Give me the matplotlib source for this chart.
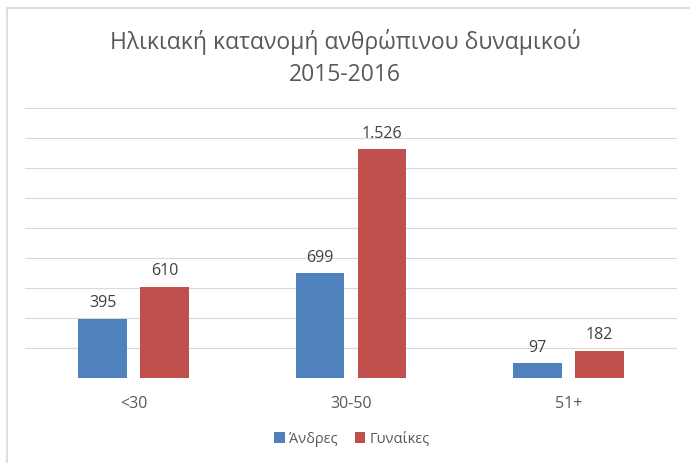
import matplotlib
matplotlib.use("Agg")
import matplotlib.pyplot as plt
import numpy as np
from matplotlib.patches import Rectangle

categories = ["<30", "30-50", "51+"]
series_names = ["Άνδρες", "Γυναίκες"]
men = [395, 699, 97]
women = [610, 1526, 182]
title_lines = ["Ηλικιακή κατανομή ανθρώπινου δυναμικού", "2015-2016"]

colors = ["#4F81BD", "#C0504D"]
FONT = ["Open Sans", "DejaVu Sans"]
plt.rcParams["font.family"] = FONT

W, H = 690, 464
fig = plt.figure(figsize=(W / 100, H / 100), dpi=100)
fig.patch.set_facecolor("white")

# chart border (only left and top edges fall inside the image)
fig.patches.append(Rectangle((7 / W, -0.5), 2, 1.5 - 9 / H, transform=fig.transFigure,
                             fill=False, edgecolor="#D9D9D9", linewidth=1.2, zorder=0))

left, right, bottom, top = 25 / W, 677 / W, 1 - 379 / H, 1 - 109 / H
ax = fig.add_axes([left, bottom, right - left, top - bottom])

x = np.arange(len(categories))
bw = 0.225
off = bw / 2 + 0.03
b1 = ax.bar(x - off, men, bw, color=colors[0], label=series_names[0], zorder=3)
b2 = ax.bar(x + off, women, bw, color=colors[1], label=series_names[1], zorder=3)

def fmt(v):
    return f"{v:,}".replace(",", ".")

for bars, vals in ((b1, men), (b2, women)):
    for rect, v in zip(bars, vals):
        ax.annotate(fmt(v), (rect.get_x() + rect.get_width() / 2, v),
                    xytext=(0, 6), textcoords="offset points",
                    ha="center", va="bottom", fontsize=11.5, color="#404040")

ax.set_xlim(-0.5, len(categories) - 0.5)
ax.set_ylim(0, 1800)
ax.set_yticks(np.arange(0, 1801, 200))
ax.yaxis.grid(True, color="#D9D9D9", linewidth=0.8, zorder=0)
ax.set_axisbelow(True)
ax.tick_params(axis="y", left=False, labelleft=False)
ax.set_xticks(x)
ax.set_xticklabels(categories, fontsize=11.5, color="#595959")
ax.tick_params(axis="x", length=0, pad=12)
for s in ax.spines.values():
    s.set_visible(False)

fig.text(0.5, 1 - 42 / H, title_lines[0], ha="center", va="center", fontsize=16.5, color="#595959")
fig.text(0.5, 1 - 75 / H, title_lines[1], ha="center", va="center", fontsize=16.5, color="#595959")

leg = fig.legend(handles=[b1, b2], labels=series_names, loc="center",
                 bbox_to_anchor=(352 / W, 1 - 440 / H), ncol=2, frameon=False,
                 fontsize=10.5, handlelength=0.7, handleheight=0.7,
                 handletextpad=0.3, columnspacing=1.2)
for t in leg.get_texts():
    t.set_color("#595959")

fig.savefig("out.png", dpi=100)
